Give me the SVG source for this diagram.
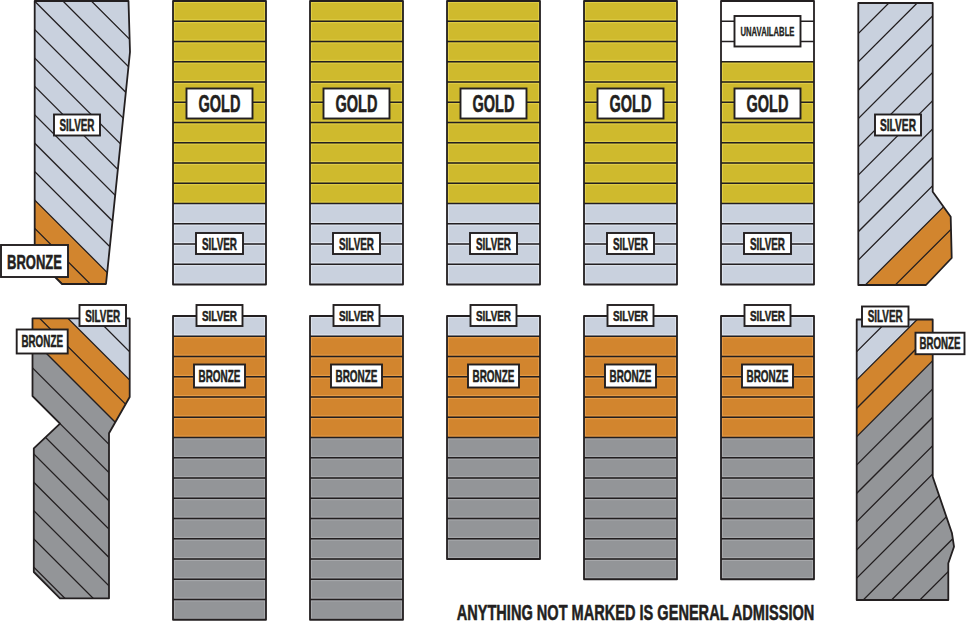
<svg xmlns="http://www.w3.org/2000/svg" xmlns:xlink="http://www.w3.org/1999/xlink" width="969" height="625" viewBox="0 0 969 625">
<style>
.o{fill:none;stroke:#231f20;stroke-width:1.8;stroke-linejoin:round}
.sep{fill:none;stroke:#231f20;stroke-width:1.4}
.h{fill:none;stroke:#231f20;stroke-width:1.3}
.lb{fill:#fff;stroke:#231f20;stroke-width:1.9}
.t{font-family:"Liberation Sans",Arial,sans-serif;font-weight:bold;fill:#231f20;stroke:#231f20;stroke-width:0.55;stroke-linejoin:round;text-anchor:middle}
.ts{stroke-width:0.3}
.sv{fill:#c9d1de}.bz{fill:#d2852e}.gy{fill:#939598}
</style>
<defs>
<pattern id="pg" patternUnits="userSpaceOnUse" width="93" height="20.25"><rect width="93" height="20.25" fill="#cfba2d"/><rect x="1.3" y="1.3" width="90.4" height="17.65" fill="none" stroke="#e6d34c" stroke-width="0.9"/></pattern>
<pattern id="ps" patternUnits="userSpaceOnUse" width="93" height="20.25"><rect width="93" height="20.25" fill="#c9d1de"/><rect x="1.3" y="1.3" width="90.4" height="17.65" fill="none" stroke="#e4e9f1" stroke-width="0.9"/></pattern>
<pattern id="pb" patternUnits="userSpaceOnUse" width="93" height="20.25"><rect width="93" height="20.25" fill="#d2852e"/><rect x="1.3" y="1.3" width="90.4" height="17.65" fill="none" stroke="#eca24f" stroke-width="0.9"/></pattern>
<pattern id="pr" patternUnits="userSpaceOnUse" width="93" height="20.25"><rect width="93" height="20.25" fill="#939598"/><rect x="1.3" y="1.3" width="90.4" height="17.65" fill="none" stroke="#adaeb1" stroke-width="0.9"/></pattern>
<g id="topcol">
<rect width="93" height="202.5" fill="url(#pg)"/>
<rect y="202.5" width="93" height="81" fill="url(#ps)"/>
<path class="sep" d="M0 20.25H93M0 40.5H93M0 60.75H93M0 81H93M0 101.25H93M0 121.5H93M0 141.75H93M0 162H93M0 182.25H93M0 202.5H93M0 222.75H93M0 243H93M0 263.25H93"/>
<rect class="o" width="93" height="283.5"/>
</g>
<g id="topcol5">
<rect width="93" height="60.75" fill="#fff"/>
<rect y="60.75" width="93" height="141.75" fill="url(#pg)"/>
<rect y="202.5" width="93" height="81" fill="url(#ps)"/>
<path class="sep" d="M0 20.25H93M0 40.5H93M0 60.75H93M0 81H93M0 101.25H93M0 121.5H93M0 141.75H93M0 162H93M0 182.25H93M0 202.5H93M0 222.75H93M0 243H93M0 263.25H93"/>
<rect class="o" width="93" height="283.5"/>
</g>
<g id="botcol9">
<rect width="93" height="20.25" fill="url(#ps)"/>
<rect y="20.25" width="93" height="101.25" fill="url(#pb)"/>
<rect y="121.5" width="93" height="182.25" fill="url(#pr)"/>
<path class="sep" d="M0 20.25H93M0 40.5H93M0 60.75H93M0 81H93M0 101.25H93M0 121.5H93M0 141.75H93M0 162H93M0 182.25H93M0 202.5H93M0 222.75H93M0 243H93M0 263.25H93M0 283.5H93"/>
<rect class="o" width="93" height="303.75"/>
</g>
<g id="botcol7">
<rect width="93" height="20.25" fill="url(#ps)"/>
<rect y="20.25" width="93" height="101.25" fill="url(#pb)"/>
<rect y="121.5" width="93" height="141.75" fill="url(#pr)"/>
<path class="sep" d="M0 20.25H93M0 40.5H93M0 60.75H93M0 81H93M0 101.25H93M0 121.5H93M0 141.75H93M0 162H93M0 182.25H93M0 202.5H93M0 222.75H93M0 243H93"/>
<rect class="o" width="93" height="263.25"/>
</g>
<g id="botcol6">
<rect width="93" height="20.25" fill="url(#ps)"/>
<rect y="20.25" width="93" height="101.25" fill="url(#pb)"/>
<rect y="121.5" width="93" height="121.5" fill="url(#pr)"/>
<path class="sep" d="M0 20.25H93M0 40.5H93M0 60.75H93M0 81H93M0 101.25H93M0 121.5H93M0 141.75H93M0 162H93M0 182.25H93M0 202.5H93M0 222.75H93"/>
<rect class="o" width="93" height="243"/>
</g>
<clipPath id="cTL"><path d="M34.7 1L128.5 1L130 52L106 284L62 284L34.7 256.7Z"/></clipPath>
<clipPath id="cBL"><path d="M32.5 318.3L129.7 318.3L129.7 397L109 433.3L109 598.3L60 598.3L33.8 572L33.8 448.3L60 423.6L32.5 396.1Z"/></clipPath>
<clipPath id="cTR"><path d="M858.3 3L932.7 3L932.7 191.7L950.7 216.7L951.7 258L926 285L858.3 285Z"/></clipPath>
<clipPath id="cBR"><path d="M856.7 319.5L932.7 319.5L932.7 476.7L952 533.3L954 546.7L948.3 563.3L948.3 600L856.7 600Z"/></clipPath>
</defs>

<g id="sec-top-left">
<g clip-path="url(#cTL)">
<rect x="0" y="0" width="140" height="300" class="sv"/>
<path class="bz" d="M0 165.3L140 305.3L140 320L0 320Z"/>
<path class="h" d="M0 -90.3L140 49.7M0 -61.9L140 78.1M0 -33.5L140 106.5M0 -5.1L140 134.9M0 23.3L140 163.3M0 51.7L140 191.7M0 80.1L140 220.1M0 108.5L140 248.5M0 136.9L140 276.9M0 165.3L140 305.3M0 193.7L140 333.7M0 222.1L140 362.1"/>
</g>
<path class="o" d="M34.7 1L128.5 1L130 52L106 284L62 284L34.7 256.7Z"/>
<rect class="lb" x="54" y="114.5" width="46" height="21"/>
<text class="t" x="77" y="130.5" font-size="16" textLength="35" lengthAdjust="spacingAndGlyphs">SILVER</text>
<rect class="lb" x="1" y="245" width="67" height="32"/>
<text class="t" x="34.5" y="268.5" font-size="21" textLength="55" lengthAdjust="spacingAndGlyphs">BRONZE</text>
</g>

<g id="sec-bottom-left">
<g clip-path="url(#cBL)">
<rect x="0" y="300" width="140" height="310" class="gy"/>
<path class="sv" d="M0 250.4L140 390.4L140 300L0 300Z"/>
<path class="bz" d="M0 250.4L140 390.4L140 447L0 307Z"/>
<path class="h" d="M0 222.1L140 362.1M0 250.4L140 390.4M0 278.7L140 418.7M0 307L140 447M0 335.3L140 475.3M0 363.6L140 503.6M0 391.9L140 531.9M0 420.2L140 560.2M0 448.5L140 588.5M0 476.8L140 616.8M0 505.1L140 645.1M0 533.4L140 673.4"/>
</g>
<path class="o" d="M32.5 318.3L129.7 318.3L129.7 397L109 433.3L109 598.3L60 598.3L33.8 572L33.8 448.3L60 423.6L32.5 396.1Z"/>
<rect class="lb" x="79.5" y="305" width="46.5" height="21"/>
<text class="t" x="102.7" y="321.7" font-size="16" textLength="35" lengthAdjust="spacingAndGlyphs">SILVER</text>
<rect class="lb" x="16.7" y="329.5" width="51" height="24"/>
<text class="t" x="42.2" y="347.3" font-size="17" textLength="41.6" lengthAdjust="spacingAndGlyphs">BRONZE</text>
</g>

<g id="sec-top-1"><use xlink:href="#topcol" x="173" y="1"/>
<rect class="lb" x="186.5" y="88.5" width="66" height="30"/><text class="t" x="219.5" y="111.5" font-size="23" textLength="42" lengthAdjust="spacingAndGlyphs">GOLD</text>
<rect class="lb" x="196" y="233" width="47" height="21"/><text class="t" x="219.5" y="250" font-size="17" textLength="35" lengthAdjust="spacingAndGlyphs">SILVER</text></g>
<g id="sec-top-2"><use xlink:href="#topcol" x="310" y="1"/>
<rect class="lb" x="323.5" y="88.5" width="66" height="30"/><text class="t" x="356.5" y="111.5" font-size="23" textLength="42" lengthAdjust="spacingAndGlyphs">GOLD</text>
<rect class="lb" x="333" y="233" width="47" height="21"/><text class="t" x="356.5" y="250" font-size="17" textLength="35" lengthAdjust="spacingAndGlyphs">SILVER</text></g>
<g id="sec-top-3"><use xlink:href="#topcol" x="447" y="1"/>
<rect class="lb" x="460.5" y="88.5" width="66" height="30"/><text class="t" x="493.5" y="111.5" font-size="23" textLength="42" lengthAdjust="spacingAndGlyphs">GOLD</text>
<rect class="lb" x="470" y="233" width="47" height="21"/><text class="t" x="493.5" y="250" font-size="17" textLength="35" lengthAdjust="spacingAndGlyphs">SILVER</text></g>
<g id="sec-top-4"><use xlink:href="#topcol" x="584" y="1"/>
<rect class="lb" x="597.5" y="88.5" width="66" height="30"/><text class="t" x="630.5" y="111.5" font-size="23" textLength="42" lengthAdjust="spacingAndGlyphs">GOLD</text>
<rect class="lb" x="607" y="233" width="47" height="21"/><text class="t" x="630.5" y="250" font-size="17" textLength="35" lengthAdjust="spacingAndGlyphs">SILVER</text></g>
<g id="sec-top-5"><use xlink:href="#topcol5" x="721" y="1"/>
<rect class="lb" x="734.5" y="16" width="66" height="30.5"/><text class="t ts" x="767.5" y="36" font-size="12" textLength="54" lengthAdjust="spacingAndGlyphs">UNAVAILABLE</text>
<rect class="lb" x="734.5" y="88.5" width="66" height="30"/><text class="t" x="767.5" y="111.5" font-size="23" textLength="42" lengthAdjust="spacingAndGlyphs">GOLD</text>
<rect class="lb" x="744" y="233" width="47" height="21"/><text class="t" x="767.5" y="250" font-size="17" textLength="35" lengthAdjust="spacingAndGlyphs">SILVER</text></g>

<g id="sec-top-right">
<g clip-path="url(#cTR)">
<rect x="850" y="0" width="110" height="290" class="sv"/>
<path class="bz" d="M850 300.3L960 190.3L960 300L850 300Z"/>
<path class="h" d="M850 41.9L960 -68.1M850 70.2L960 -39.8M850 98.5L960 -11.5M850 126.8L960 16.8M850 155.1L960 45.1M850 183.4L960 73.4M850 211.7L960 101.7M850 240L960 130M850 268.3L960 158.3M850 300.3L960 190.3M850 330.3L960 220.3"/>
</g>
<path class="o" d="M858.3 3L932.7 3L932.7 191.7L950.7 216.7L951.7 258L926 285L858.3 285Z"/>
<rect class="lb" x="875" y="114.5" width="46" height="21"/>
<text class="t" x="898" y="130.7" font-size="17" textLength="36" lengthAdjust="spacingAndGlyphs">SILVER</text>
</g>

<g id="sec-bot-1"><use xlink:href="#botcol9" x="173" y="316"/>
<rect class="lb" x="196.5" y="305" width="46" height="21"/><text class="t" x="219.5" y="321.3" font-size="15.5" textLength="35" lengthAdjust="spacingAndGlyphs">SILVER</text>
<rect class="lb" x="194" y="364.5" width="51" height="23"/><text class="t" x="219.5" y="381.7" font-size="17" textLength="42" lengthAdjust="spacingAndGlyphs">BRONZE</text></g>
<g id="sec-bot-2"><use xlink:href="#botcol9" x="310" y="316"/>
<rect class="lb" x="333.5" y="305" width="46" height="21"/><text class="t" x="356.5" y="321.3" font-size="15.5" textLength="35" lengthAdjust="spacingAndGlyphs">SILVER</text>
<rect class="lb" x="331" y="364.5" width="51" height="23"/><text class="t" x="356.5" y="381.7" font-size="17" textLength="42" lengthAdjust="spacingAndGlyphs">BRONZE</text></g>
<g id="sec-bot-3"><use xlink:href="#botcol6" x="447" y="316"/>
<rect class="lb" x="470.5" y="305" width="46" height="21"/><text class="t" x="493.5" y="321.3" font-size="15.5" textLength="35" lengthAdjust="spacingAndGlyphs">SILVER</text>
<rect class="lb" x="468" y="364.5" width="51" height="23"/><text class="t" x="493.5" y="381.7" font-size="17" textLength="42" lengthAdjust="spacingAndGlyphs">BRONZE</text></g>
<g id="sec-bot-4"><use xlink:href="#botcol7" x="584" y="316"/>
<rect class="lb" x="607.5" y="305" width="46" height="21"/><text class="t" x="630.5" y="321.3" font-size="15.5" textLength="35" lengthAdjust="spacingAndGlyphs">SILVER</text>
<rect class="lb" x="605" y="364.5" width="51" height="23"/><text class="t" x="630.5" y="381.7" font-size="17" textLength="42" lengthAdjust="spacingAndGlyphs">BRONZE</text></g>
<g id="sec-bot-5"><use xlink:href="#botcol7" x="721" y="316"/>
<rect class="lb" x="744.5" y="305" width="46" height="21"/><text class="t" x="767.5" y="321.3" font-size="15.5" textLength="35" lengthAdjust="spacingAndGlyphs">SILVER</text>
<rect class="lb" x="742" y="364.5" width="51" height="23"/><text class="t" x="767.5" y="381.7" font-size="17" textLength="42" lengthAdjust="spacingAndGlyphs">BRONZE</text></g>

<g id="sec-bottom-right">
<g clip-path="url(#cBR)">
<rect x="850" y="310" width="110" height="300" class="gy"/>
<path class="sv" d="M850 386.7L960 276.7L960 300L850 300Z"/>
<path class="bz" d="M850 386.7L960 276.7L960 333.4L850 443.4Z"/>
<path class="h" d="M850 358.4L960 248.4M850 386.7L960 276.7M850 415L960 305M850 443.4L960 333.4M850 471.7L960 361.7M850 500L960 390M850 528.3L960 418.3M850 556.6L960 446.6M850 584.9L960 474.9M850 613.2L960 503.2M850 641.5L960 531.5M850 669.8L960 559.8M850 698.1L960 588.1"/>
</g>
<path class="o" d="M856.7 319.5L932.7 319.5L932.7 476.7L952 533.3L954 546.7L948.3 563.3L948.3 600L856.7 600Z"/>
<rect class="lb" x="862" y="306.5" width="46.5" height="20"/>
<text class="t" x="885.2" y="321.7" font-size="16" textLength="35" lengthAdjust="spacingAndGlyphs">SILVER</text>
<rect class="lb" x="915.5" y="332.7" width="49" height="21.5"/>
<text class="t" transform="translate(940 349.3) scale(0.571 1)" font-size="17">BRONZE</text>
</g>

<g id="connectors"/>

<text id="note" class="t" transform="translate(635.5 619.5) scale(0.648 1)" font-size="22.5">ANYTHING NOT MARKED IS GENERAL ADMISSION</text>
</svg>
